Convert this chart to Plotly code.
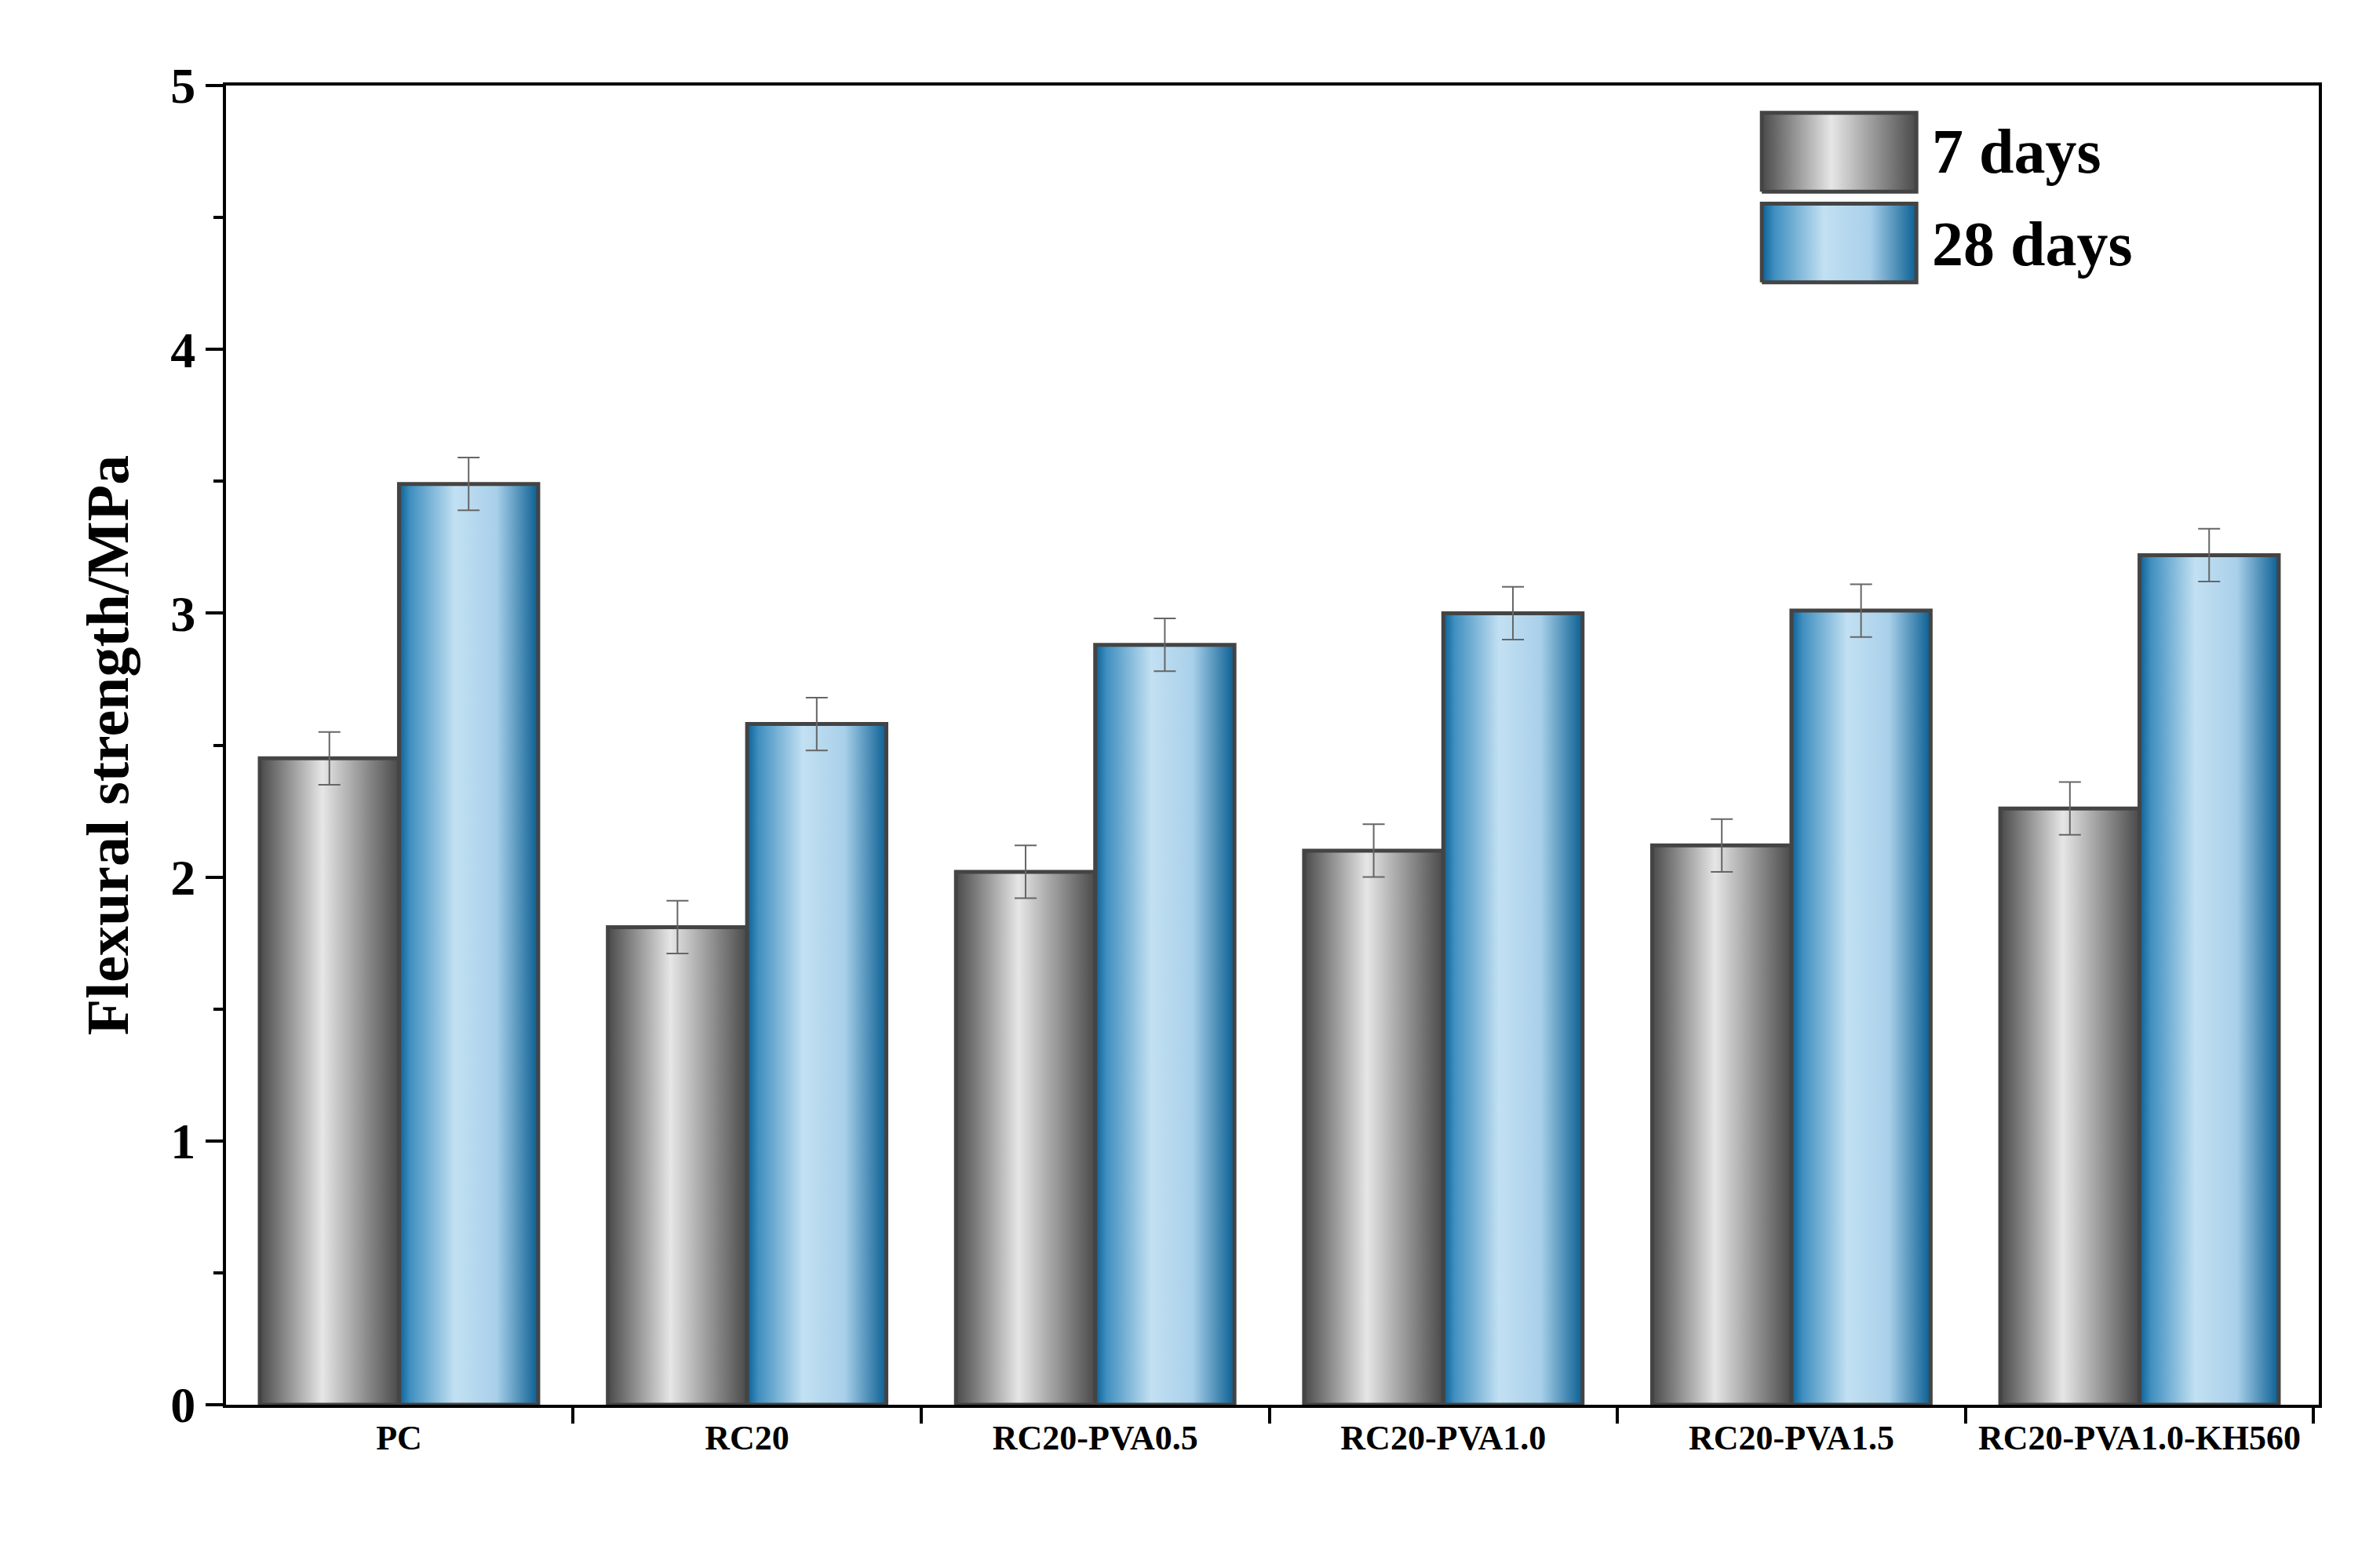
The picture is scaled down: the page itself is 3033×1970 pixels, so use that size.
import plotly.graph_objects as go

categories = ["PC", "RC20", "RC20-PVA0.5", "RC20-PVA1.0", "RC20-PVA1.5", "RC20-PVA1.0-KH560"]
days7 = [2.45, 1.81, 2.02, 2.10, 2.12, 2.26]
days28 = [3.49, 2.58, 2.88, 3.00, 3.01, 3.22]
err7 = [0.10, 0.10, 0.10, 0.10, 0.10, 0.10]
err28 = [0.10, 0.10, 0.10, 0.10, 0.10, 0.10]

W = 0.4
gray_cs = [[0, "#4a4a4a"], [0.45, "#e6e6e6"], [1, "#4a4a4a"]]
blue_cs = [[0, "#0a5f93"], [0.08, "#3f8fc0"], [0.4, "#c2e0f2"], [0.7, "#a9d0ea"], [1, "#0a5f93"]]

fig = go.Figure()

def bar(x0, x1, y0, y1, cs):
    fig.add_trace(go.Scatter(
        x=[x0, x1, x1, x0, x0], y=[y0, y0, y1, y1, y0], mode="lines",
        fill="toself", fillgradient=dict(type="horizontal", colorscale=cs),
        line=dict(color="#444444", width=5), showlegend=False, hoverinfo="skip"))

for i in range(len(categories)):
    bar(i - W, i, 0, days7[i], gray_cs)
    bar(i, i + W, 0, days28[i], blue_cs)

xs = list(range(len(categories)))
fig.add_trace(go.Scatter(x=[i - W / 2 for i in xs], y=days7, mode="markers", marker=dict(size=1, opacity=0),
                         error_y=dict(type="data", array=err7, color="#666", thickness=2, width=14), showlegend=False))
fig.add_trace(go.Scatter(x=[i + W / 2 for i in xs], y=days28, mode="markers", marker=dict(size=1, opacity=0),
                         error_y=dict(type="data", array=err28, color="#666", thickness=2, width=14), showlegend=False))

# legend
bar(3.915, 4.359, 4.598, 4.897, gray_cs)
bar(3.915, 4.359, 4.254, 4.552, blue_cs)
for y, t in [(4.75, "7 days"), (4.40, "28 days")]:
    fig.add_annotation(x=4.40, y=y, text="<b>%s</b>" % t, showarrow=False, xanchor="left",
                       font=dict(family="Liberation Serif", size=80, color="black"))

fig.update_layout(
    width=3033, height=1970, paper_bgcolor="white", plot_bgcolor="white",
    margin=dict(l=280, r=86, t=101, b=188),
    font=dict(family="Liberation Serif", color="black"),
)
fig.update_xaxes(range=[-0.497, 5.515], tickmode="array", tickvals=xs, ticktext=["<b>%s</b>" % c for c in categories],
                 tickfont=dict(size=44), ticks="", showline=True, linecolor="black", linewidth=4, mirror=True,
                 showgrid=False, zeroline=False,
                 minor=dict(tickmode="array", tickvals=[i + 0.5 for i in range(-1, 6)], ticks="outside",
                            ticklen=20, tickwidth=4, tickcolor="black"))
fig.update_yaxes(range=[0, 5], tickvals=[0, 1, 2, 3, 4, 5], ticktext=["<b>%d</b>" % v for v in range(6)],
                 tickfont=dict(size=64), ticks="outside", ticklen=22, tickwidth=4, tickcolor="black",
                 showline=True, linecolor="black", linewidth=4, mirror=True, showgrid=False, zeroline=False,
                 minor=dict(dtick=0.5, ticks="outside", ticklen=12, tickwidth=4, tickcolor="black"),
                 title=dict(text="<b>Flexural strength/MPa</b>", font=dict(size=76), standoff=30))

fig.write_html("out.html")
